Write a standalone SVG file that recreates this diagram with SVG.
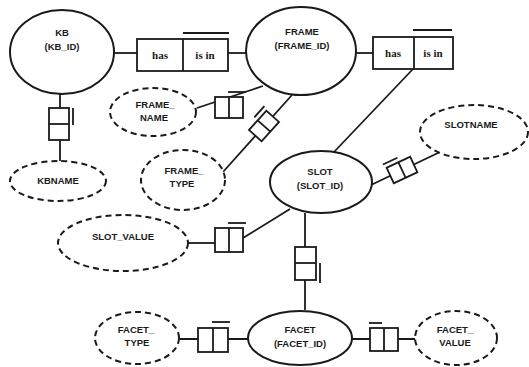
<svg xmlns="http://www.w3.org/2000/svg" width="529" height="367" viewBox="0 0 529 367">
<style>
.ent{fill:#fff;stroke:#1a1a1a;stroke-width:2}
.att{fill:#fff;stroke:#1a1a1a;stroke-width:2;stroke-dasharray:6 4}
.ln{stroke:#1a1a1a;stroke-width:1.8;fill:none}
.bx{fill:#fff;stroke:#1a1a1a;stroke-width:1.8}
.t{font-family:"Liberation Sans",Arial,sans-serif;font-weight:bold;font-size:9.5px;fill:#1a1a1a;text-anchor:middle}
.r{font-family:"Liberation Serif","Times New Roman",serif;font-weight:bold;font-size:11px;fill:#1a1a1a;text-anchor:middle}
</style>
<rect width="529" height="367" fill="#fff"/>
<g id="connectors">
<line class="ln" x1="114" y1="53" x2="137" y2="53"/>
<line class="ln" x1="228" y1="53" x2="247" y2="53"/>
<line class="ln" x1="356" y1="53" x2="373" y2="53"/>
<line class="ln" x1="413" y1="69" x2="334" y2="152"/>
<line class="ln" x1="60" y1="94" x2="60" y2="161"/>
<line class="ln" x1="197" y1="108" x2="263" y2="86"/>
<line class="ln" x1="223" y1="172" x2="292" y2="95"/>
<line class="ln" x1="371" y1="185" x2="440" y2="152"/>
<line class="ln" x1="187" y1="243" x2="215" y2="243"/>
<line class="ln" x1="243" y1="238" x2="290" y2="209"/>
<line class="ln" x1="305" y1="213" x2="305" y2="310"/>
<line class="ln" x1="180" y1="339" x2="248" y2="339"/>
<line class="ln" x1="352" y1="339" x2="415" y2="339"/>
</g>
<g id="kb"><ellipse class="ent" cx="62" cy="52" rx="52" ry="42"/><text class="t" x="62" y="36">KB</text><text class="t" x="62" y="50">(KB_ID)</text></g>
<g id="frame"><ellipse class="ent" cx="301" cy="51" rx="55" ry="44"/><text class="t" x="302" y="35">FRAME</text><text class="t" x="302" y="49">(FRAME_ID)</text></g>
<g id="slot"><ellipse class="ent" cx="321" cy="182" rx="51" ry="31"/><text class="t" x="320" y="175">SLOT</text><text class="t" x="320" y="189">(SLOT_ID)</text></g>
<g id="facet"><ellipse class="ent" cx="300" cy="338" rx="52" ry="27"/><text class="t" x="300" y="333">FACET</text><text class="t" x="300" y="347">(FACET_ID)</text></g>
<g id="kbname"><ellipse class="att" cx="58" cy="181" rx="48" ry="20"/><text class="t" x="58" y="184">KBNAME</text></g>
<g id="frame_name"><ellipse class="att" cx="153" cy="112" rx="43" ry="24"/><text class="t" x="155" y="108">FRAME_</text><text class="t" x="154" y="121">NAME</text></g>
<g id="frame_type"><ellipse class="att" cx="183" cy="180" rx="42" ry="30"/><text class="t" x="184" y="174">FRAME_</text><text class="t" x="182" y="187">TYPE</text></g>
<g id="slotname"><ellipse class="att" cx="474" cy="132" rx="54" ry="27"/><text class="t" x="471" y="128">SLOTNAME</text></g>
<g id="slot_value"><ellipse class="att" cx="123" cy="243" rx="65" ry="28"/><text class="t" x="123" y="240">SLOT_VALUE</text></g>
<g id="facet_type"><ellipse class="att" cx="137" cy="338" rx="42" ry="26"/><text class="t" x="136" y="333">FACET_</text><text class="t" x="137" y="346">TYPE</text></g>
<g id="facet_value"><ellipse class="att" cx="456" cy="338" rx="41" ry="27"/><text class="t" x="455" y="333">FACET_</text><text class="t" x="455" y="346">VALUE</text></g>
<g id="rel_kb_frame"><rect class="bx" x="137" y="39" width="91" height="32"/><line class="ln" x1="183" y1="39" x2="183" y2="71"/><line class="ln" x1="183" y1="33" x2="229" y2="33"/><text class="r" x="160" y="59">has</text><text class="r" x="205" y="59">is in</text></g>
<g id="rel_frame_slot"><rect class="bx" x="373" y="37" width="80" height="32"/><line class="ln" x1="414" y1="37" x2="414" y2="69"/><line class="ln" x1="413" y1="30" x2="452" y2="30"/><text class="r" x="393" y="57">has</text><text class="r" x="433" y="57">is in</text></g>
<g id="card_kbname"><rect class="bx" x="49" y="108" width="20" height="32"/><line class="ln" x1="49" y1="124" x2="69" y2="124"/><line class="ln" x1="73" y1="108" x2="73" y2="125"/></g>
<g id="card_frame_name"><rect class="bx" x="215" y="97" width="28" height="21"/><line class="ln" x1="229" y1="97" x2="229" y2="118"/><line class="ln" x1="228" y1="92" x2="246" y2="92"/></g>
<g id="card_frame_type" transform="translate(264 126) rotate(-48)"><rect class="bx" x="-13" y="-8.5" width="26" height="17"/><line class="ln" x1="0" y1="-8.5" x2="0" y2="8.5"/><line class="ln" x1="0" y1="-13" x2="15" y2="-13"/></g>
<g id="card_slotname" transform="translate(402 170) rotate(-25)"><rect class="bx" x="-13" y="-8.5" width="26" height="17"/><line class="ln" x1="0" y1="-8.5" x2="0" y2="8.5"/><line class="ln" x1="-15" y1="-13" x2="1" y2="-13"/></g>
<g id="card_slot_value"><rect class="bx" x="215" y="228" width="28" height="24"/><line class="ln" x1="229" y1="228" x2="229" y2="252"/><line class="ln" x1="228" y1="223" x2="246" y2="223"/></g>
<g id="card_slot_facet"><rect class="bx" x="295" y="247" width="21" height="33"/><line class="ln" x1="295" y1="263" x2="316" y2="263"/><line class="ln" x1="320" y1="263" x2="320" y2="283"/></g>
<g id="card_facet_type"><rect class="bx" x="198" y="328" width="30" height="24"/><line class="ln" x1="213" y1="328" x2="213" y2="352"/><line class="ln" x1="212" y1="322" x2="230" y2="322"/></g>
<g id="card_facet_value"><rect class="bx" x="370" y="328" width="28" height="23"/><line class="ln" x1="384" y1="328" x2="384" y2="351"/><line class="ln" x1="369" y1="323" x2="382" y2="323"/></g>
</svg>
